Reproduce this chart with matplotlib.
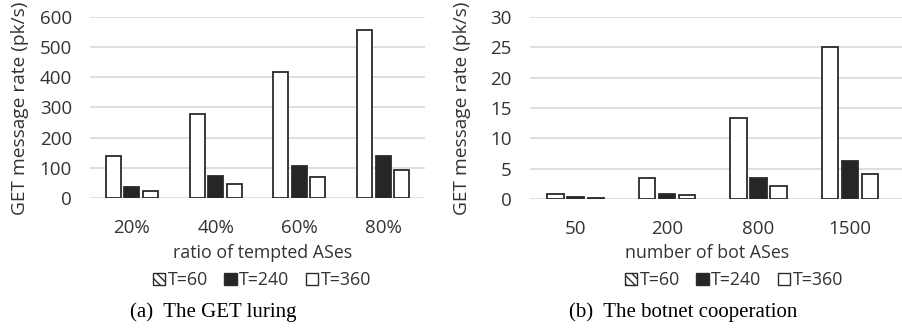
import numpy as np
import matplotlib
matplotlib.use("Agg")
import matplotlib.pyplot as plt
from matplotlib.patches import Patch

plt.rcParams['font.family'] = ['Open Sans', 'DejaVu Sans']

series = ['T=60', 'T=240', 'T=360']

ratio_labels = ['20%', '40%', '60%', '80%']
luring_t60 = [140, 280, 418, 557]
luring_t240 = [37, 72, 105, 140]
luring_t360 = [23, 47, 70, 93]

bot_labels = ['50', '200', '800', '1500']
coop_t60 = [0.85, 3.4, 13.4, 25.0]
coop_t240 = [0.25, 0.9, 3.4, 6.3]
coop_t360 = [0.2, 0.6, 2.2, 4.2]

W, H = 903, 329
fig = plt.figure(figsize=(W / 100, H / 100), dpi=100)

edge = '#2a2a2a'
black = '#262626'
grid = '#d9d9d9'
txt = '#333333'
fs = 12.8


def draw(ax, labels, vals, ymax, ystep):
    x = np.arange(len(labels))
    bw = 0.18
    off = 0.22
    ax.bar(x - off, vals[0], bw, color='white', edgecolor=edge, linewidth=1.3, zorder=3)
    ax.bar(x, vals[1], bw, color=black, edgecolor=edge, linewidth=1.3, zorder=3)
    ax.bar(x + off, vals[2], bw, color='white', edgecolor=edge, linewidth=1.3, zorder=3)
    ax.set_xlim(-0.5, len(labels) - 0.5)
    ax.set_ylim(0, ymax)
    ax.set_yticks(np.arange(0, ymax + ystep / 2, ystep))
    ax.set_xticks(x)
    ax.set_xticklabels(labels, fontsize=13.5, color=txt)
    ax.tick_params(axis='y', labelsize=13.5, colors=txt, length=0, pad=13)
    ax.tick_params(axis='x', length=0, pad=15)
    for s in ax.spines.values():
        s.set_visible(False)
    ax.yaxis.grid(True, color=grid, linewidth=1.2, zorder=0)
    ax.set_axisbelow(True)


ax1 = fig.add_axes([90 / W, 1 - 198 / H, 335 / W, 181 / H])
draw(ax1, ratio_labels, [luring_t60, luring_t240, luring_t360], 600, 100)
ax2 = fig.add_axes([530 / W, 1 - 199 / H, 373 / W, 182 / H])
draw(ax2, bot_labels, [coop_t60, coop_t240, coop_t360], 30, 5)
ax2.set_xlim(-0.5, 3.58)

for x in (20, 462):
    fig.text(x / W, 1 - 108 / H, 'GET message rate (pk/s)', rotation=90, ha='center',
             va='center', fontsize=13.8, color=txt)

fig.text(263 / W, 1 - 253 / H, 'ratio of tempted ASes', ha='center', va='center',
         fontsize=fs, color=txt)
fig.text(707 / W, 1 - 253 / H, 'number of bot ASes', ha='center', va='center',
         fontsize=fs, color=txt)

handles = [Patch(facecolor='white', edgecolor=edge, hatch='\\\\\\\\'),
           Patch(facecolor=black, edgecolor=edge),
           Patch(facecolor='white', edgecolor=edge)]
for cx in (262, 734):
    fig.legend(handles, series, loc='center', bbox_to_anchor=(cx / W, 1 - 280 / H),
               ncol=3, frameon=False, fontsize=fs, handlelength=0.7, handleheight=0.7,
               handletextpad=0.15, columnspacing=0.9, labelcolor=txt)

fig.text(213 / W, 1 - 312 / H, '(a)  The GET luring', ha='center', va='center',
         fontsize=15, family='Liberation Serif')
fig.text(683 / W, 1 - 312 / H, '(b)  The botnet cooperation', ha='center', va='center',
         fontsize=15, family='Liberation Serif')

fig.savefig('out.png', dpi=100)
